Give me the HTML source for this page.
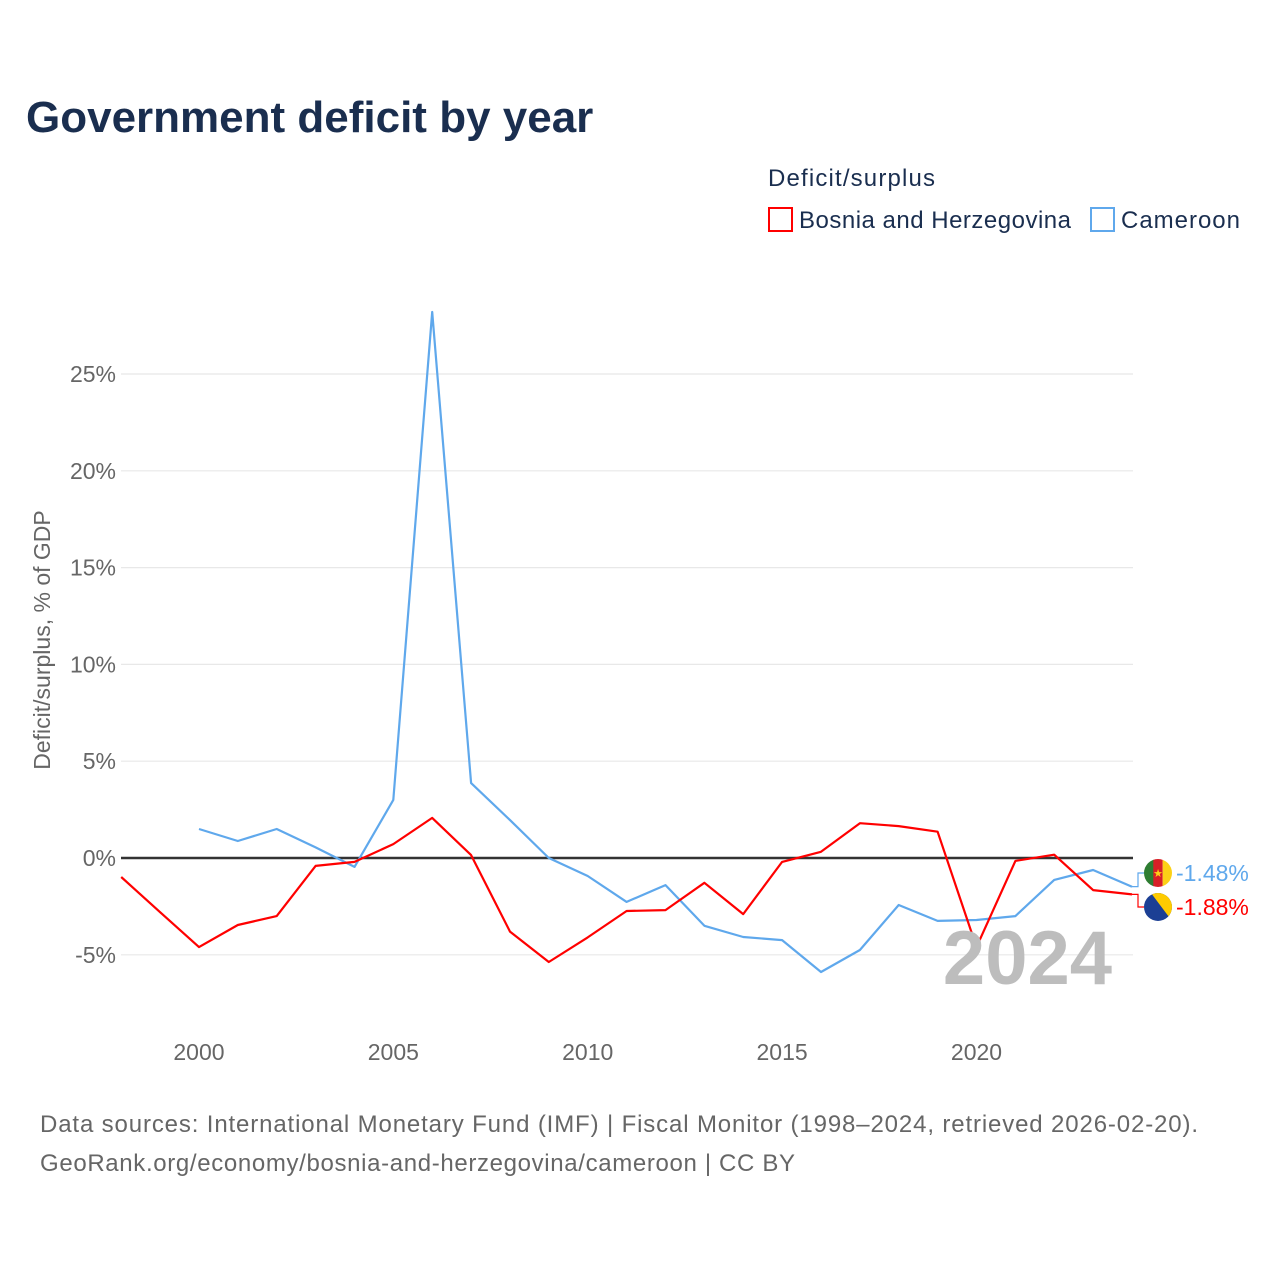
<!DOCTYPE html>
<html><head><meta charset="utf-8"><style>
body{margin:0;background:#fff;font-family:"Liberation Sans",sans-serif}
svg text{font-family:"Liberation Sans",sans-serif}
</style></head><body>
<svg id="c" width="1280" height="1280" xmlns="http://www.w3.org/2000/svg">
<text x="26" y="132" font-size="44" font-weight="bold" fill="#1a2e4f">Government deficit by year</text>
<text x="768" y="186" font-size="24" fill="#1a2e4f" textLength="167">Deficit/surplus</text>
<g><rect x="769" y="208" width="23" height="23" fill="none" stroke="#ff0000" stroke-width="2"/><text x="799" y="228" font-size="24" fill="#1a2e4f" textLength="272">Bosnia and Herzegovina</text></g>
<g><rect x="1091" y="208" width="23" height="23" fill="none" stroke="#5fa8ec" stroke-width="2"/><text x="1121" y="228" font-size="24" fill="#1a2e4f" textLength="119">Cameroon</text></g>
<text transform="translate(50,640) rotate(-90)" text-anchor="middle" font-size="23" fill="#666">Deficit/surplus, % of GDP</text>
<g id="grid"></g><g id="series"></g>
<text x="1112" y="984" text-anchor="end" font-size="76" font-weight="bold" fill="#bdbdbd">2024</text>
<text x="40" y="1132" font-size="24" fill="#666" textLength="1158">Data sources: International Monetary Fund (IMF) | Fiscal Monitor (1998–2024, retrieved 2026-02-20).</text>
<text x="40" y="1171" font-size="24" fill="#666" textLength="755">GeoRank.org/economy/bosnia-and-herzegovina/cameroon | CC BY</text>
</svg>
<script>
const years=[1998,1999,2000,2001,2002,2003,2004,2005,2006,2007,2008,2009,2010,2011,2012,2013,2014,2015,2016,2017,2018,2019,2020,2021,2022,2023,2024];
const bosnia=[-0.98,-2.8,-4.6,-3.46,-3.0,-0.41,-0.2,0.72,2.07,0.15,-3.8,-5.37,-4.1,-2.74,-2.69,-1.28,-2.9,-0.2,0.32,1.8,1.65,1.36,-4.6,-0.15,0.17,-1.66,-1.88];
const cameroon=[null,null,1.5,0.88,1.5,0.55,-0.46,3.0,28.2,3.87,1.96,0,-0.93,-2.27,-1.4,-3.5,-4.08,-4.24,-5.89,-4.75,-2.43,-3.25,-3.2,-3.0,-1.13,-0.62,-1.48];
const yTicks=[-5,0,5,10,15,20,25];
const xTicks=[2000,2005,2010,2015,2020];
const NS="http://www.w3.org/2000/svg";
const X=y=>121.2+(y-1998)*(1132-121.2)/26;
const Y=v=>858-v*19.36;
function mk(t,a,p){const e=document.createElementNS(NS,t);for(const k in a)e.setAttribute(k,a[k]);p.appendChild(e);return e;}
const g=document.getElementById('grid'),s=document.getElementById('series');
yTicks.forEach(v=>{
 const l=mk('line',{x1:121,x2:1133,y1:Y(v),y2:Y(v),stroke:v===0?'#333':'#e8e8e8','stroke-width':v===0?2.5:1.2},g);
 
 
 const t=mk('text',{x:116,y:Y(v)+8,'text-anchor':'end','font-size':23,fill:'#666'},g);t.textContent=v+'%';
 
 
});
xTicks.forEach(v=>{
 const t=mk('text',{x:X(v),y:1060,'text-anchor':'middle','font-size':23,fill:'#666'},g);t.textContent=v;
 
 
});
function line(vals,col,name){
 let d='';vals.forEach((v,i)=>{if(v===null)return;d+=(d?'L':'M')+X(years[i]).toFixed(1)+','+Y(v).toFixed(1);});
 const p=mk('path',{d:d,fill:'none',stroke:col,'stroke-width':2.2,'stroke-linejoin':'round'},s);
 
 
}
line(cameroon,'#5fa8ec','cameroon-line');
line(bosnia,'#ff0000','bosnia-line');
function endLabel(v,ly,col,name,flag){
 const ex=X(2024),ey=Y(v);
 mk('path',{d:`M${ex},${ey}H${ex+6}V${ly}H${ex+12}`,fill:'none',stroke:col,'stroke-width':1.2},s);
 const c=mk('g',{},s);
 
 
 flag(c,ex+26,ly);
 const t=mk('text',{x:ex+44,y:ly+8,'font-size':23,fill:col},s);
 t.textContent=v.toFixed(2)+'%';
 
 
}
const lastC=cameroon[cameroon.length-1],lastB=bosnia[bosnia.length-1];
endLabel(lastC,873,'#5fa8ec','cameroon',(p,x,y)=>{
 mk('clipPath',{id:'cc'},p).appendChild(document.createElementNS(NS,'circle')).setAttribute('cx',x);
 const cp=p.querySelector('circle');cp.setAttribute('cy',y);cp.setAttribute('r',14);
 mk('rect',{x:x-14,y:y-14,width:10,height:28,fill:'#2e7d32','clip-path':'url(#cc)'},p);
 mk('rect',{x:x-4.7,y:y-14,width:9.4,height:28,fill:'#d81f26','clip-path':'url(#cc)'},p);
 mk('rect',{x:x+4.7,y:y-14,width:10,height:28,fill:'#fcd116','clip-path':'url(#cc)'},p);
 mk('text',{x:x,y:y+4,'text-anchor':'middle','font-size':11,fill:'#fcd116'},p).textContent='★';
});
endLabel(lastB,907,'#ff0000','bosnia',(p,x,y)=>{
 mk('circle',{cx:x,cy:y,r:14,fill:'#1c3f94'},p);
 const cl=mk('clipPath',{id:'bc'},p);mk('circle',{cx:x,cy:y,r:14},cl);
 mk('polygon',{points:`${x-7},${y-14} ${x+14},${y-14} ${x+14},${y+14}`,fill:'#fecb00','clip-path':'url(#bc)'},p);
});
</script>
</body></html>
